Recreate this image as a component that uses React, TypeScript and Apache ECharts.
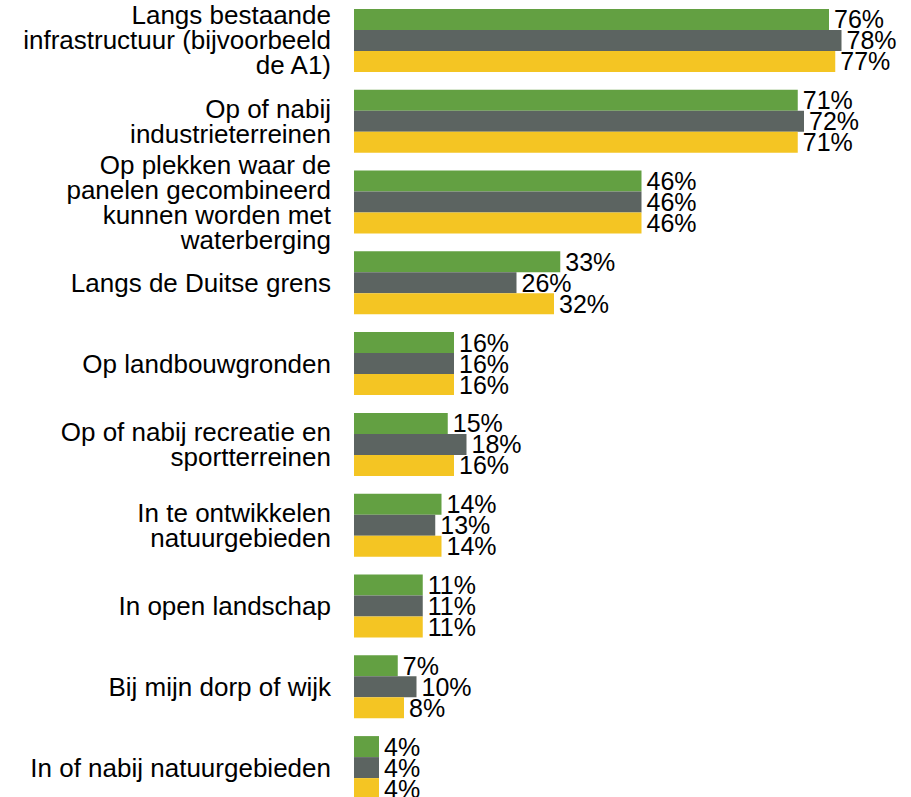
import React, { useEffect, useRef } from "react";
import * as echarts from "echarts";

const categories = [
  "Langs bestaande\ninfrastructuur (bijvoorbeeld\nde A1)",
  "Op of nabij\nindustrieterreinen",
  "Op plekken waar de\npanelen gecombineerd\nkunnen worden met\nwaterberging",
  "Langs de Duitse grens",
  "Op landbouwgronden",
  "Op of nabij recreatie en\nsportterreinen",
  "In te ontwikkelen\nnatuurgebieden",
  "In open landschap",
  "Bij mijn dorp of wijk",
  "In of nabij natuurgebieden",
];

const seriesGreen = [76, 71, 46, 33, 16, 15, 14, 11, 7, 4];
const seriesGray = [78, 72, 46, 26, 16, 18, 13, 11, 10, 4];
const seriesYellow = [77, 71, 46, 32, 16, 16, 14, 11, 8, 4];

const seriesNames = ["Groep 1", "Groep 2", "Groep 3"];
const colors = ["#63a042", "#5c6461", "#f4c523"];

export default function App() {
  const ref = useRef<HTMLDivElement>(null);
  useEffect(() => {
    if (!ref.current) return;
    const chart = echarts.init(ref.current, null, { renderer: "svg" });
    const font = "Liberation Sans, Arial, sans-serif";
    const label = {
      show: true,
      position: "right",
      distance: 5,
      formatter: "{c}%",
      color: "#000",
      fontSize: 25,
      fontFamily: font,
    };
    const data = [seriesGreen, seriesGray, seriesYellow];
    chart.setOption({
      animation: false,
      grid: { left: 354, top: 0, right: 0, height: 808, containLabel: false },
      xAxis: {
        type: "value",
        min: 0,
        max: 89.12,
        show: false,
      },
      yAxis: {
        type: "category",
        data: categories,
        inverse: true,
        axisLine: { show: false },
        axisTick: { show: false },
        axisLabel: {
          margin: 23,
          color: "#000",
          fontSize: 26,
          lineHeight: 25,
          fontFamily: font,
          align: "right",
        },
      },
      series: data.map((d, i) => ({
        name: seriesNames[i],
        type: "bar",
        data: d,
        barGap: "0%",
        barCategoryGap: "22%",
        itemStyle: { color: colors[i] },
        label,
      })),
    });
    return () => chart.dispose();
  }, []);
  return (
    <div
      style={{
        position: "absolute",
        left: 0,
        top: 0,
        width: 911,
        height: 797,
        overflow: "hidden",
      }}
    >
      <div ref={ref} style={{ width: 911, height: 820 }} />
    </div>
  );
}
